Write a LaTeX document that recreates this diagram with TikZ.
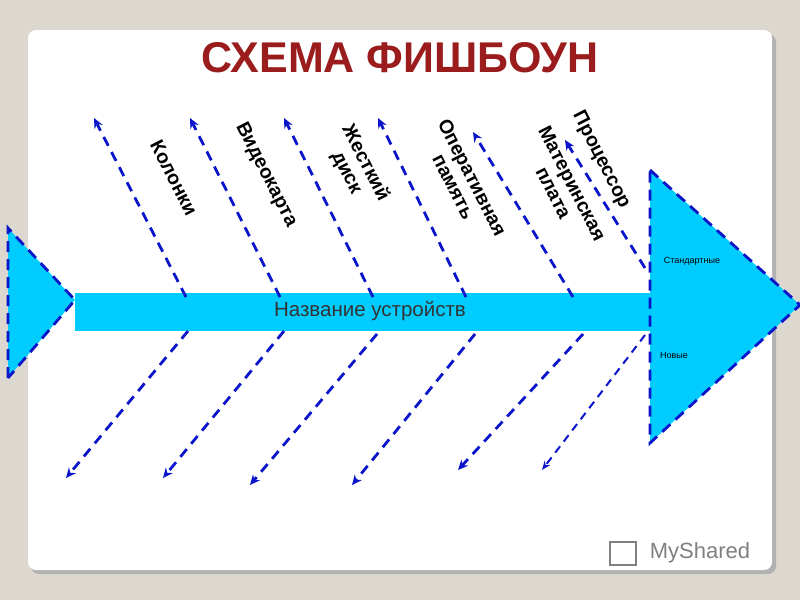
\documentclass[tikz,border=0pt]{standalone}
\usepackage{fontspec}
\setmainfont{Liberation Sans}
\usetikzlibrary{arrows.meta}
\definecolor{bg}{HTML}{DCD8CF}
\definecolor{cyanf}{HTML}{00CCFF}
\definecolor{dblue}{HTML}{0A14C8}
\definecolor{titler}{HTML}{9A1C1C}
\tikzset{
  bone/.style={dblue,line width=2.8pt,dash pattern=on 10pt off 7pt,-{Stealth[length=10pt,width=9pt,fill=dblue]}},
  lab/.style={font=\bfseries\fontsize{19.5}{21}\selectfont,rotate=-63,align=center,inner sep=0pt},
  dashb/.style={dblue,line width=2.8pt,dash pattern=on 11pt off 7pt}
}
\begin{document}
\begin{tikzpicture}[x=1pt,y=-1pt]
\fill[bg] (0,0) rectangle (800,600);
\useasboundingbox (0,0) rectangle (800,600);
\fill[gray!60,rounded corners=8pt] (31,34) rectangle (776,574);
\fill[white,rounded corners=8pt] (28,30) rectangle (772,570);
\node (title) at (400,58) {\bfseries\color{titler}\fontsize{43}{44}\selectfont СХЕМА ФИШБОУН};
% tail
\fill[cyanf] (8,228) -- (75,300) -- (8,378) -- cycle;
\draw[dashb] (8,378) -- (8,228) -- (75,300) -- (8,378);
% bar
\fill[cyanf] (75,293) rectangle (652,331);
\node (bar) at (370,311) {\color{black!80}\fontsize{20.5}{21}\selectfont Название устройств};
% head
\fill[cyanf] (650,170) -- (800,305) -- (650,443) -- cycle;
\draw[dashb] (650,170) -- (800,305) -- (650,443) -- cycle;
\node (std) at (692,261) {\fontsize{9}{10}\selectfont Стандартные};
\node (new) at (674,355) {\fontsize{9}{10}\selectfont Новые};
% upper bones
\coordinate (u1s) at (186,297); \coordinate (u1e) at (94,118);
\coordinate (u2s) at (280,297); \coordinate (u2e) at (190,118);
\coordinate (u3s) at (373,297); \coordinate (u3e) at (284,118);
\coordinate (u4s) at (466,297); \coordinate (u4e) at (378,118);
\coordinate (u5s) at (573,297); \coordinate (u5e) at (473,132);
\coordinate (u6s) at (645,268); \coordinate (u6e) at (565,140);
\foreach \i in {1,...,6} \draw[bone] (u\i s) -- (u\i e);
% lower bones
\coordinate (l1s) at (188,331); \coordinate (l1e) at (66,478);
\coordinate (l2s) at (284,331); \coordinate (l2e) at (163,478);
\coordinate (l3s) at (377,334); \coordinate (l3e) at (250,485);
\coordinate (l4s) at (475,334); \coordinate (l4e) at (352,485);
\coordinate (l5s) at (583,334); \coordinate (l5e) at (458,470);
\foreach \i in {1,...,5} \draw[bone] (l\i s) -- (l\i e);
\draw[dblue,line width=2pt,dash pattern=on 8pt off 6pt,-{Stealth[length=9pt,width=7pt,fill=dblue]}] (645,335) -- (542,470);
% labels
\node[lab] (k) at (174,178) {Колонки};
\node[lab] (v) at (266,175) {Видеокарта};
\node[lab] (z) at (356,168) {Жесткий\\диск};
\node[lab] (o) at (463,182) {Оперативная\\память};
\node[lab] (m) at (563,188) {Материнская\\плата};
\node[lab] (p) at (601,160) {Процессор};
% logo
\node (logo) at (700,553) {\color{gray}\fontsize{22}{23}\selectfont MyShared};
\draw[gray,line width=2pt] (610,542) rectangle (636,565);
\end{tikzpicture}
\end{document}
